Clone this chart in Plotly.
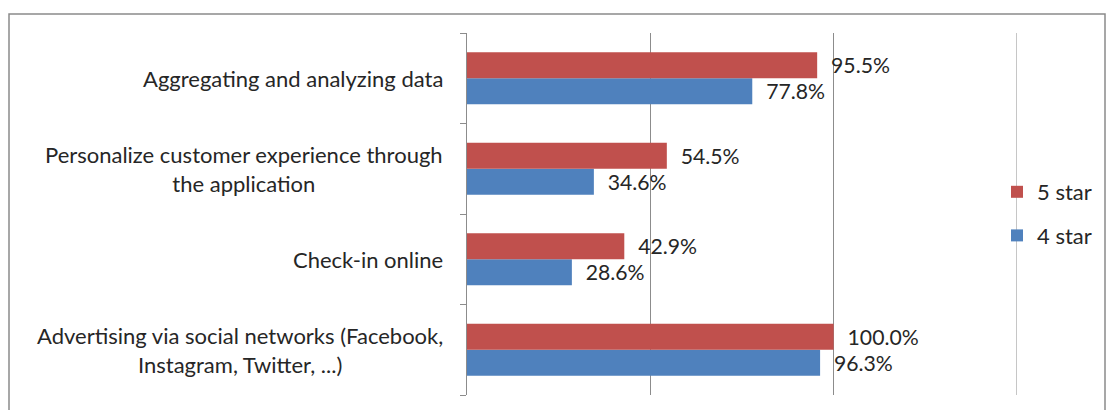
import plotly.graph_objects as go

# Categories listed bottom-to-top as they appear on the y axis
categories = [
    "Advertising via social networks (Facebook,<br>Instagram, Twitter, ...)",
    "Check-in online",
    "Personalize customer experience through<br>the application",
    "Aggregating and analyzing data",
]
four_star = [96.3, 28.6, 34.6, 77.8]
five_star = [100.0, 42.9, 54.5, 95.5]
series_names = ["4 star", "5 star"]
series_colors = ["#4F81BD", "#C0504D"]
legend_ranks = [2, 1]

FONT = "Lato"
FS = 22
TEXT = "#262626"
GRID = "#8c8c8c"

W, H = 1106, 410
L, R, T, B = 467, 89, 33, 15
pw = W - L - R
ph = H - T - B

fig = go.Figure()
for name, vals, col, rank in zip(series_names, [four_star, five_star],
                                 series_colors, legend_ranks):
    fig.add_trace(go.Bar(
        y=categories, x=vals, name=name, orientation="h",
        marker=dict(color=col, line=dict(width=0)),
        texttemplate="  %{x:.1f}%", textposition="outside",
        textfont=dict(family=FONT, size=FS, color=TEXT),
        cliponaxis=False, legendgroup=name, legendrank=rank,
    ))

# Category labels, centred line-by-line, right-aligned to the axis
for c in categories:
    fig.add_annotation(
        x=0, xref="paper", y=c, yref="y", text=c, showarrow=False,
        xanchor="right", yanchor="middle", align="center", xshift=-22,
        font=dict(family=FONT, size=FS, color=TEXT),
    )

# Gridline at the right end of the value range
fig.add_shape(
    type="line", xref="x", yref="paper", x0=150, x1=150, y0=0, y1=1,
    line=dict(color=GRID, width=1), layer="below",
)

# Outer chart frame
fig.add_shape(
    type="rect", xref="paper", yref="paper",
    x0=(9 - L) / pw, x1=(1105 - L) / pw,
    y0=-0.2, y1=1 + (T - 14) / ph,
    line=dict(color="#8a8a8a", width=1.5), layer="below",
)

fig.update_layout(
    width=W, height=H,
    margin=dict(l=L, r=R, t=T, b=B, autoexpand=False),
    paper_bgcolor="white", plot_bgcolor="white",
    barmode="group", bargap=0.425, bargroupgap=0,
    showlegend=True,
    legend=dict(
        x=(997 - L) / pw, y=0.5, xanchor="left", yanchor="middle",
        traceorder="grouped", tracegroupgap=12,
        font=dict(family=FONT, size=FS, color=TEXT),
        bgcolor="rgba(0,0,0,0)",
    ),
    xaxis=dict(
        range=[0, 150], dtick=50, showticklabels=False,
        showgrid=True, gridcolor=GRID, gridwidth=1,
        zeroline=False, showline=False, ticks="",
    ),
    yaxis=dict(
        showticklabels=False, tickson="boundaries", ticks="outside",
        ticklen=6, tickcolor=GRID, showline=True, linecolor=GRID,
        linewidth=1, showgrid=False, zeroline=False,
    ),
)

fig.write_html("out.html")
